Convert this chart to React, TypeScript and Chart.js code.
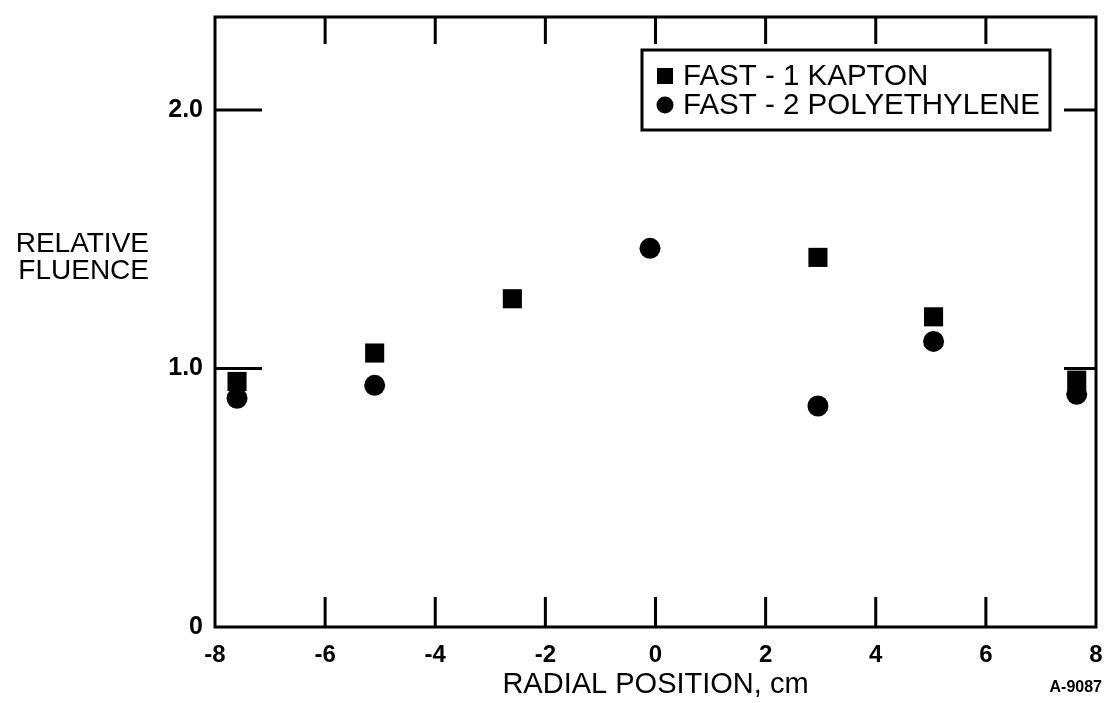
import React, { useEffect, useRef } from "react";
import { Chart, registerables } from "chart.js";

Chart.register(...registerables);

const kaptonX = [-7.6, -5.1, -2.6, 2.95, 5.05, 7.65];
const kaptonY = [0.95, 1.06, 1.27, 1.43, 1.2, 0.955];
const polyX = [-7.6, -5.1, -0.1, 2.95, 5.05, 7.65];
const polyY = [0.885, 0.935, 1.465, 0.855, 1.105, 0.9];
const seriesLabels = ["FAST - 1 KAPTON", "FAST - 2 POLYETHYLENE"];
const xTicks = [-8, -6, -4, -2, 0, 2, 4, 6, 8];
const yTicks = [0, 1, 2];
const yTickLabels = ["0", "1.0", "2.0"];
const xTitle = "RADIAL POSITION, cm";
const yTitle = ["RELATIVE", "FLUENCE"];
const figureId = "A-9087";

const FAMILY = "'Liberation Sans', Arial, Helvetica, sans-serif";

const framePlugin = {
  id: "frame",
  beforeDatasetsDraw(chart: any) {
    const { ctx, chartArea, scales } = chart;
    const { left, right, top, bottom } = chartArea;
    ctx.save();
    ctx.strokeStyle = "#000";
    ctx.lineWidth = 3;
    ctx.lineCap = "butt";
    ctx.strokeRect(left, top, right - left, bottom - top);
    xTicks.slice(1, -1).forEach((v) => {
      const px = scales.x.getPixelForValue(v);
      ctx.beginPath();
      ctx.moveTo(px, top);
      ctx.lineTo(px, top + 27);
      ctx.moveTo(px, bottom);
      ctx.lineTo(px, bottom - 30);
      ctx.stroke();
    });
    yTicks.slice(1).forEach((v) => {
      const py = scales.y.getPixelForValue(v);
      ctx.beginPath();
      ctx.moveTo(left, py);
      ctx.lineTo(left + 47, py);
      ctx.moveTo(right, py);
      ctx.lineTo(right - 32, py);
      ctx.stroke();
    });
    ctx.restore();
  },
  afterDraw(chart: any) {
    const { ctx } = chart;
    ctx.save();
    ctx.fillStyle = "#000";
    ctx.font = `28px ${FAMILY}`;
    ctx.textAlign = "right";
    ctx.textBaseline = "middle";
    ctx.fillText(yTitle[0], 149, 244);
    ctx.fillText(yTitle[1], 149, 271);
    ctx.font = `bold 16px ${FAMILY}`;
    ctx.textAlign = "right";
    ctx.fillText(figureId, 1102, 688);

    const bx = 642, by = 50, bw = 408, bh = 80;
    ctx.lineWidth = 3;
    ctx.strokeStyle = "#000";
    ctx.strokeRect(bx, by, bw, bh);
    const rows = [76, 105];
    chart.data.datasets.forEach((ds: any, i: number) => {
      const cy = rows[i];
      const cx = 665;
      ctx.beginPath();
      if (ds.pointStyle === "rect") {
        ctx.rect(cx - 8, cy - 8, 16, 16);
      } else {
        ctx.arc(cx, cy, 8.5, 0, Math.PI * 2);
      }
      ctx.fill();
      ctx.font = `29.5px ${FAMILY}`;
      ctx.textAlign = "left";
      ctx.textBaseline = "middle";
      ctx.fillText(ds.label, 683, cy + 1);
    });
    ctx.restore();
  },
};

export default function App() {
  const ref = useRef<HTMLCanvasElement | null>(null);
  useEffect(() => {
    if (!ref.current) return;
    const chart = new Chart(ref.current, {
      type: "scatter",
      data: {
        datasets: [
          {
            label: seriesLabels[0],
            data: kaptonX.map((x, i) => ({ x, y: kaptonY[i] })),
            pointStyle: "rect",
            pointRadius: 13.5,
            backgroundColor: "#000",
            borderColor: "#000",
            borderWidth: 0,
          },
          {
            label: seriesLabels[1],
            data: polyX.map((x, i) => ({ x, y: polyY[i] })),
            pointStyle: "circle",
            pointRadius: 10.5,
            backgroundColor: "#000",
            borderColor: "#000",
            borderWidth: 0,
          },
        ],
      },
      options: {
        animation: false,
        responsive: false,
        events: [],
        layout: { padding: { left: 0, top: 17, right: 14, bottom: 0 } },
        plugins: {
          legend: { display: false },
          tooltip: { enabled: false },
        },
        scales: {
          x: {
            type: "linear",
            position: "bottom",
            min: -8,
            max: 8,
            afterBuildTicks: (s: any) => {
              s.ticks = xTicks.map((v) => ({ value: v }));
            },
            afterFit: (s: any) => {
              s.height = 76;
              s.paddingLeft = 0;
              s.paddingRight = 0;
            },
            grid: { display: false, drawTicks: false },
            border: { display: false },
            ticks: {
              color: "#000",
              padding: 14,
              maxRotation: 0,
              autoSkip: false,
              font: { family: FAMILY, size: 24, weight: "bold" },
              callback: (v: any) => String(v),
            },
            title: {
              display: true,
              text: xTitle,
              color: "#000",
              font: { family: FAMILY, size: 29 },
              padding: { top: 0, bottom: 1 },
            },
          },
          y: {
            type: "linear",
            min: 0,
            max: 2.36,
            afterBuildTicks: (s: any) => {
              s.ticks = yTicks.map((v) => ({ value: v }));
            },
            afterFit: (s: any) => {
              s.width = 215;
              s.paddingTop = 0;
              s.paddingBottom = 0;
            },
            grid: { display: false, drawTicks: false },
            border: { display: false },
            ticks: {
              color: "#000",
              padding: 12,
              font: { family: FAMILY, size: 25, weight: "bold" },
              callback: (v: any) => yTickLabels[yTicks.indexOf(Number(v))] ?? String(v),
            },
          },
        },
      },
      plugins: [framePlugin],
    } as any);
    return () => chart.destroy();
  }, []);
  return (
    <div style={{ position: "absolute", left: 0, top: 0, width: 1110, height: 703, background: "#fff" }}>
      <canvas ref={ref} width={1110} height={703} style={{ display: "block" }} />
    </div>
  );
}
